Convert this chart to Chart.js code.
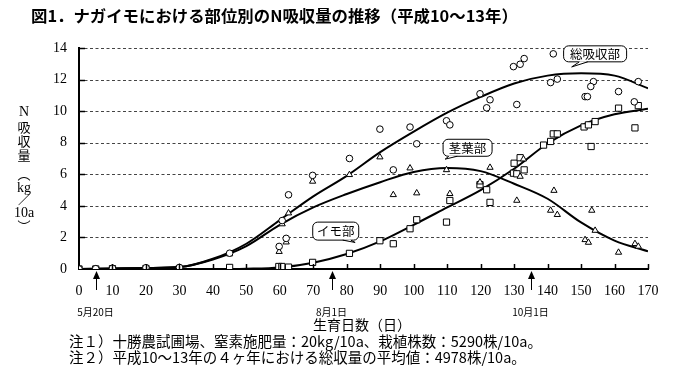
<!DOCTYPE html>
<html><head><meta charset="utf-8">
<script src="https://cdn.jsdelivr.net/npm/chart.js@4.4.1/dist/chart.umd.min.js"></script>
<style>html,body{margin:0;padding:0;background:#fff}#wrap{width:675px;height:374px;position:relative}</style>
</head><body><div id="wrap"><canvas id="c" width="675" height="374"></canvas></div>
<script>
// ---- data (days after planting, N uptake kg/10a) ----
const totalDays = [0,5,10,20,30,45,59.8,61.9,60.7,62.6,69.8,80.8,89.9,93.9,98.9,100.9,109.8,110.8,119.8,122.8,121.8,130.8,129.8,131.8,133,141.7,140.9,142.9,153.7,152.9,151.2,151.9,161.2,165.9,167.1];
const totalN    = [0,0.02,0.05,0.08,0.1,1.0,1.43,1.94,3.07,4.7,5.93,7.0,8.86,6.28,8.99,7.93,9.39,9.13,11.1,10.72,10.21,10.42,12.82,12.97,13.33,13.63,11.81,12.03,11.87,11.56,10.92,10.92,11.24,10.59,11.87];
const stemDays  = [0,5,10,20,30,45,59.8,61.9,60.7,62.6,69.8,80.8,89.9,93.9,98.9,100.9,109.8,110.8,119.8,122.8,130.8,131.8,132.8,141.9,140.9,142.9,153.2,154.2,151.2,152.2,161.2,166.1,167.1];
const stemN     = [0,0.02,0.05,0.08,0.1,0.95,1.1,1.7,2.85,3.54,5.55,5.97,7.09,4.7,6.39,4.81,6.28,4.77,5.5,6.43,4.34,5.86,6.96,4.97,3.71,3.44,3.71,2.44,1.85,1.68,1.05,1.6,1.43];
const tuberDays = [0,5,10,20,30,45,59.7,60.6,62.6,69.8,80.8,89.9,93.9,98.9,100.9,109.8,110.8,119.8,121.8,122.8,129.8,130,130.8,131.8,133,138.8,140.9,141.7,142.9,150.9,152.2,154.2,153,161.2,166.1,167.1];
const tuberN    = [0,0,0.02,0.03,0.03,0.1,0.16,0.16,0.12,0.42,0.99,1.79,1.6,2.55,3.12,2.97,4.34,5.34,5.02,4.22,6.07,6.7,6.03,7.05,6.28,7.85,8.08,8.56,8.56,9.0,9.13,9.34,7.76,10.19,8.94,10.35];
// fitted curves
const curveDays  = [0,10,20,30,40,50,60,70,80,90,100,110,120,130,140,150,160,170];
const curveTotal = [0,0.03,0.06,0.12,0.65,1.6,3.1,4.6,5.9,7.4,8.7,9.9,10.9,11.75,12.25,12.4,12.25,11.45];
const curveStem  = [0,0.03,0.06,0.12,0.6,1.45,2.8,3.9,4.75,5.5,6.15,6.4,6.2,5.4,4.45,2.95,1.8,1.12];
const curveTuber = [0,0,0,0,0,0.02,0.1,0.4,0.95,1.75,2.8,3.9,5.0,6.35,7.95,9.1,9.8,10.15];
const xTicks = [0,10,20,30,40,50,60,70,80,90,100,110,120,130,140,150,160,170];
const yTicks = [0,2,4,6,8,10,12,14];
const dateMarks = [5, 75.5, 135];
const dateLabels = ['5月20日','8月1日','10月1日'];
const calloutTexts = ['総吸収部','茎葉部','イモ部'];

const pts = (xs, ys) => xs.map((x, i) => ({x, y: ys[i]}));

const SERIF = '"Liberation Serif","DejaVu Serif",serif';
const JP = '"Noto Sans CJK JP","Noto Sans CJK SC",sans-serif';

// callout placement (in data units) : box centre and tail tip
const callouts = [
  {cx:154.2, cy:13.63, w:63, h:16, tx:147.2, ty:12.8, bx:[149.5,152]},
  {cx:116.1, cy:7.68,  w:49, h:17, tx:109.4, ty:6.96, bx:[110.5,113]},
  {cx:76.7,  cy:2.4,   w:46, h:18, tx:82.5,  ty:1.68, bx:[78.8,81.2]}
];

const gridPlugin = {
  id: 'dashgrid',
  beforeDatasetsDraw(chart) {
    const ctx = chart.ctx, ys = chart.scales.y, ca = chart.chartArea;
    ctx.save();
    ctx.strokeStyle = '#444'; ctx.lineWidth = 1; ctx.setLineDash([3, 2.5]);
    yTicks.forEach(v => { if (v === 0) return; const py = Math.round(ys.getPixelForValue(v)) + 0.5;
      ctx.beginPath(); ctx.moveTo(ca.left, py); ctx.lineTo(ca.right, py); ctx.stroke(); });
    ctx.restore();
  }
};

const drawPlugin = {
  id: 'decor',
  afterDraw(chart) {
    const ctx = chart.ctx, xs = chart.scales.x, ys = chart.scales.y, ca = chart.chartArea;
    ctx.save();
    // inside ticks
    ctx.strokeStyle = '#000'; ctx.lineWidth = 1.5; ctx.setLineDash([]);
    xTicks.forEach(v => { if (v === 0) return; const px = Math.round(xs.getPixelForValue(v)) + 0.5;
      ctx.beginPath(); ctx.moveTo(px, ca.bottom); ctx.lineTo(px, ca.bottom - 5); ctx.stroke(); });
    yTicks.forEach(v => { if (v === 0) return; const py = Math.round(ys.getPixelForValue(v)) + 0.5;
      ctx.beginPath(); ctx.moveTo(ca.left, py); ctx.lineTo(ca.left + 6, py); ctx.stroke(); });
    // date arrows
    ctx.fillStyle = '#000'; ctx.lineWidth = 1;
    dateMarks.forEach((d, i) => {
      const px = Math.round(xs.getPixelForValue(d)) + 0.5;
      ctx.beginPath(); ctx.moveTo(px, ca.bottom + 8); ctx.lineTo(px, ca.bottom + 21); ctx.stroke();
      ctx.beginPath(); ctx.moveTo(px, ca.bottom + 2); ctx.lineTo(px - 3.5, ca.bottom + 10); ctx.lineTo(px + 3.5, ca.bottom + 10); ctx.closePath(); ctx.fill();
      ctx.font = '10px ' + JP; ctx.textAlign = 'center'; ctx.textBaseline = 'middle';
      ctx.fillText(dateLabels[i], px - 1, 312);
    });
    // title
    ctx.textAlign = 'left'; ctx.textBaseline = 'middle';
    ctx.font = 'bold 16.4px ' + JP;
    ctx.fillText('図1．ナガイモにおける部位別のN吸収量の推移（平成10～13年）', 31, 16);
    // x axis title
    ctx.font = '14px ' + JP; ctx.textAlign = 'center';
    ctx.fillText('生育日数（日）', 362, 325);
    // notes
    ctx.textAlign = 'left'; ctx.font = '14.5px ' + JP;
    ctx.fillText('注１）十勝農試圃場、窒素施肥量：20kg/10a、栽植株数：5290株/10a。', 69, 341);
    ctx.fillText('注２）平成10～13年の４ヶ年における総収量の平均値：4978株/10a。', 69, 357);
    // y axis title (vertical)
    ctx.textAlign = 'center';
    const yt = [['N',112,SERIF,14],['吸',127,JP,13],['収',141,JP,13],['量',155,JP,13],['︵',174,JP,13],['kg',188,SERIF,14],['／',200,JP,12],['10a',213,SERIF,14],['︶',226,JP,13]];
    yt.forEach(([t, y, f, s]) => { ctx.font = s + 'px ' + f; ctx.fillText(t, 24, y); });
    // callouts
    callouts.forEach((c, i) => {
      const cx = xs.getPixelForValue(c.cx), cy = ys.getPixelForValue(c.cy);
      const x0 = cx - c.w / 2, y0 = cy - c.h / 2;
      ctx.lineWidth = 1; ctx.strokeStyle = '#000'; ctx.fillStyle = '#fff';
      ctx.beginPath(); ctx.roundRect(x0, y0, c.w, c.h, 5); ctx.fill(); ctx.stroke();
      const b1 = xs.getPixelForValue(c.bx[0]), b2 = xs.getPixelForValue(c.bx[1]);
      const tx = xs.getPixelForValue(c.tx), ty = ys.getPixelForValue(c.ty);
      ctx.beginPath(); ctx.moveTo(b1, y0 + c.h - 0.5); ctx.lineTo(tx, ty); ctx.lineTo(b2, y0 + c.h - 0.5); ctx.closePath(); ctx.fill();
      ctx.beginPath(); ctx.moveTo(b1, y0 + c.h); ctx.lineTo(tx, ty); ctx.lineTo(b2, y0 + c.h); ctx.stroke();
      ctx.fillStyle = '#000'; ctx.font = '12.5px ' + JP; ctx.textAlign = 'center'; ctx.textBaseline = 'middle';
      ctx.fillText(calloutTexts[i], cx, cy + 0.5);
    });
    ctx.restore();
  }
};

const markerBase = {showLine: false, borderColor: '#000', backgroundColor: '#fff', pointBorderWidth: 1};
new Chart(document.getElementById('c'), {
  type: 'scatter',
  data: {
    datasets: [
      {...markerBase, label: '総吸収部', data: pts(totalDays, totalN), pointStyle: 'circle', pointRadius: 3.3},
      {...markerBase, label: '茎葉部', data: pts(stemDays, stemN), pointStyle: 'triangle', pointRadius: 3.6},
      {...markerBase, label: 'イモ部', data: pts(tuberDays, tuberN), pointStyle: 'rect', pointRadius: 4.4},
      {label: '総吸収部曲線', data: pts(curveDays, curveTotal), showLine: true, pointRadius: 0, borderColor: '#000', borderWidth: 2, cubicInterpolationMode: 'monotone'},
      {label: '茎葉部曲線', data: pts(curveDays, curveStem), showLine: true, pointRadius: 0, borderColor: '#000', borderWidth: 2, cubicInterpolationMode: 'monotone'},
      {label: 'イモ部曲線', data: pts(curveDays, curveTuber), showLine: true, pointRadius: 0, borderColor: '#000', borderWidth: 2, cubicInterpolationMode: 'monotone'}
    ]
  },
  options: {
    responsive: false, animation: false,
    layout: {padding: {top: 48, right: 27, bottom: 0, left: 0}},
    plugins: {legend: {display: false}, tooltip: {enabled: false}},
    scales: {
      x: {type: 'linear', min: 0, max: 170,
        afterFit: s => { s.height = 105; },
        afterBuildTicks: s => { s.ticks = xTicks.map(v => ({value: v})); },
        ticks: {autoSkip: false, maxRotation: 0, padding: 14, color: '#000', font: {family: SERIF, size: 14}},
        grid: {display: false, drawTicks: false},
        border: {display: true, color: '#000', width: 2}
      },
      y: {type: 'linear', min: 0, max: 14,
        afterFit: s => { s.width = 79; },
        afterBuildTicks: s => { s.ticks = yTicks.map(v => ({value: v})); },
        ticks: {padding: 12, color: '#000', font: {family: SERIF, size: 14}},
        grid: {display: false, drawTicks: false},
        border: {display: true, color: '#000', width: 2}
      }
    }
  },
  plugins: [gridPlugin, drawPlugin]
});
</script>
</body></html>
